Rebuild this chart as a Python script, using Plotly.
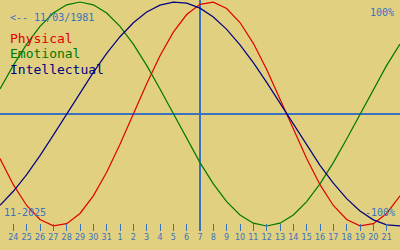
import plotly.graph_objects as go

# Day offsets relative to the marked day (Nov 7, 2025)
day_offsets = list(range(-15, 16))
# Labels for the tick marks (Oct 24 .. Nov 21)
tick_offsets = list(range(-14, 15))
tick_labels = ["24", "25", "26", "27", "28", "29", "30", "31",
               "1", "2", "3", "4", "5", "6", "7", "8", "9", "10",
               "11", "12", "13", "14", "15", "16", "17", "18", "19", "20", "21"]
marked_day = 0

physical = [-0.398, -0.631, -0.817, -0.942, -0.998, -0.979, -0.888, -0.731,
            -0.520, -0.270, 0.000, 0.270, 0.520, 0.731, 0.888, 0.979,
            0.998, 0.942, 0.817, 0.631, 0.398, 0.136, -0.136, -0.398,
            -0.631, -0.817, -0.942, -0.998, -0.979, -0.888, -0.731]
emotional = [0.223, 0.434, 0.624, 0.782, 0.901, 0.975, 1.000, 0.975,
             0.901, 0.782, 0.624, 0.434, 0.223, 0.000, -0.223, -0.434,
             -0.624, -0.782, -0.901, -0.975, -1.000, -0.975, -0.901, -0.782,
             -0.624, -0.434, -0.223, 0.000, 0.223, 0.434, 0.624]
intellectual = [-0.815, -0.690, -0.541, -0.372, -0.189, 0.000, 0.189, 0.372,
                0.541, 0.690, 0.815, 0.910, 0.972, 0.999, 0.990, 0.945,
                0.866, 0.756, 0.618, 0.458, 0.282, 0.095, -0.095, -0.282,
                -0.458, -0.618, -0.756, -0.866, -0.945, -0.990, -0.999]

BG = "#E0D080"
BLUE = "#3A72C0"
RED = "#E00000"
GREEN = "#007800"
NAVY = "#000080"
FONT = "DejaVu Sans Mono"

fig = go.Figure()
for vals, col in [(physical, RED), (emotional, GREEN), (intellectual, NAVY)]:
    fig.add_trace(go.Scatter(x=day_offsets, y=vals, mode="lines",
                             line=dict(color=col, width=1.2), hoverinfo="skip"))

W, H, B = 400, 250, 19
PH = H - B

def py(p):
    return 1 - p / PH

ann = []
def add(text, x, y, color, size, xanchor="left"):
    ann.append(dict(text=text, x=x / W, y=py(y), xref="paper", yref="paper",
                    xanchor=xanchor, yanchor="middle", showarrow=False,
                    font=dict(family=FONT, size=size, color=color)))

add("&lt;-- 11/03/1981", 8, 17, BLUE, 10)
add("Physical", 8, 39, RED, 13)
add("Emotional", 8, 54, GREEN, 13)
add("Intellectual", 8, 70, NAVY, 13)
add("100%", 396, 12, BLUE, 10, "right")
add("11-2025", 2, 212, BLUE, 10)
add("-100%", 397, 212, BLUE, 10, "right")

ymax = 1 + 2 / 112
ymin = ymax - PH / 112

fig.update_layout(
    width=W, height=H,
    margin=dict(l=0, r=0, t=0, b=B),
    paper_bgcolor=BG, plot_bgcolor=BG,
    showlegend=False,
    annotations=ann,
    xaxis=dict(range=[-15, 15], tickvals=tick_offsets, ticktext=tick_labels,
               ticks="inside", ticklen=7, tickwidth=1, tickcolor=BLUE,
               showgrid=False, showline=False,
               zeroline=True, zerolinecolor=BLUE, zerolinewidth=1.5,
               tickfont=dict(family="DejaVu Sans", size=8, color=BLUE)),
    yaxis=dict(range=[ymin, ymax], showticklabels=False, ticks="",
               showgrid=False, showline=False,
               zeroline=True, zerolinecolor=BLUE, zerolinewidth=1.5),
)
fig.write_html("out.html")
